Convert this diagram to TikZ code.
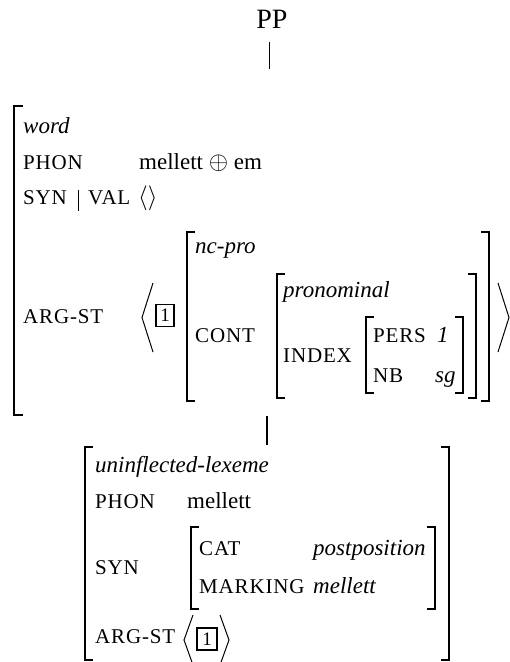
\documentclass[tikz,border=0pt]{standalone}
\usepackage{fontspec}
\setmainfont{Liberation Serif}
\newfontfamily\attfont[LetterSpace=4]{Liberation Serif}
\begin{document}
\begin{tikzpicture}[x=1pt,y=-1pt,
  txt/.style={anchor=base west,inner sep=0pt,font=\fontsize{23}{27}\selectfont},
  itx/.style={txt,font=\fontsize{23}{27}\selectfont\itshape},
  att/.style={txt,font=\attfont\fontsize{21}{26}\selectfont},
  brk/.style={line width=1.2pt},
  ang/.style={line width=1pt},
  tagbox/.style={draw,line width=1.6pt,inner sep=0pt,minimum width=18pt,minimum height=22pt,font=\fontsize{19}{22}\selectfont},
  conn/.style={line width=1pt}]
\useasboundingbox (0,0) rectangle (510,662);
% PP
\node[anchor=base,inner sep=0pt,font=\fontsize{28}{32}\selectfont] (pp) at (272,28) {PP};
\coordinate (c1) at (269,42);
\coordinate (c2) at (269,69);
\draw[conn] (c1) -- (c2);
% outer word AVM
\draw[brk] (23,106) -- (14,106) -- (14,415) -- (23,415);
\node[itx] (word) at (23,133) {word};
\node[att] (phon1) at (23,169) {PHON};
\node[txt] (phonv1) at (139,169) {mellett $\oplus$ em};
\node[att] (syn1) at (23,204) {SYN};
\draw[line width=0.8pt] (78,190) -- (78,211);
\node[att] (val1) at (88,204) {VAL};
\node[txt] (valv1) at (138,204) {$\langle\rangle$};
\node[att] (arg1) at (23,323) {ARG-ST};
\draw[ang] (153,283) -- (142,317.5) -- (153,352);
\draw[ang] (498,283) -- (509,317.5) -- (498,352);
\node[tagbox] (tag1) at (165,315.5) {1};
% nc-pro
\draw[brk] (195,232) -- (187,232) -- (187,401) -- (195,401);
\draw[brk] (481,232) -- (489,232) -- (489,401) -- (481,401);
\node[itx] (ncpro) at (195,253) {nc-pro};
\node[att] (cont) at (195,342) {CONT};
% pronominal
\draw[brk] (285,274) -- (277,274) -- (277,398) -- (285,398);
\draw[brk] (468,274) -- (476,274) -- (476,398) -- (468,398);
\node[itx] (pron) at (283,297) {pronominal};
\node[att] (index) at (283,362) {INDEX};
% index
\draw[brk] (374,317) -- (366,317) -- (366,393) -- (374,393);
\draw[brk] (455,317) -- (463,317) -- (463,393) -- (455,393);
\node[att] (pers) at (373,342) {PERS};
\node[itx] (persv) at (437,342) {1};
\node[att] (nb) at (373,382) {NB};
\node[itx] (nbv) at (435,382) {sg};
% connector
\coordinate (c3) at (267,416);
\coordinate (c4) at (267,445);
\draw[line width=2pt] (c3) -- (c4);
% lower AVM
\draw[brk] (93,447) -- (85,447) -- (85,660) -- (93,660);
\draw[brk] (441,447) -- (449,447) -- (449,660) -- (441,660);
\node[itx] (ul) at (95,472) {uninflected-lexeme};
\node[att] (phon2) at (95,508) {PHON};
\node[txt] (phonv2) at (187,508) {mellett};
\node[att] (syn2) at (95,574) {SYN};
\draw[brk] (199,527) -- (191,527) -- (191,609) -- (199,609);
\draw[brk] (427,527) -- (435,527) -- (435,609) -- (427,609);
\node[att] (cat) at (199,555) {CAT};
\node[itx] (catv) at (313,555) {postposition};
\node[att] (mark) at (199,593) {MARKING};
\node[itx] (markv) at (313,593) {mellett};
\node[att] (arg2) at (95,643) {ARG-ST};
\draw[ang] (193,615) -- (184,640) -- (193,665);
\draw[ang] (220,615) -- (229,640) -- (220,665);
\node[tagbox,minimum width=20pt] (tag2) at (207,639) {1};
\end{tikzpicture}
\end{document}
